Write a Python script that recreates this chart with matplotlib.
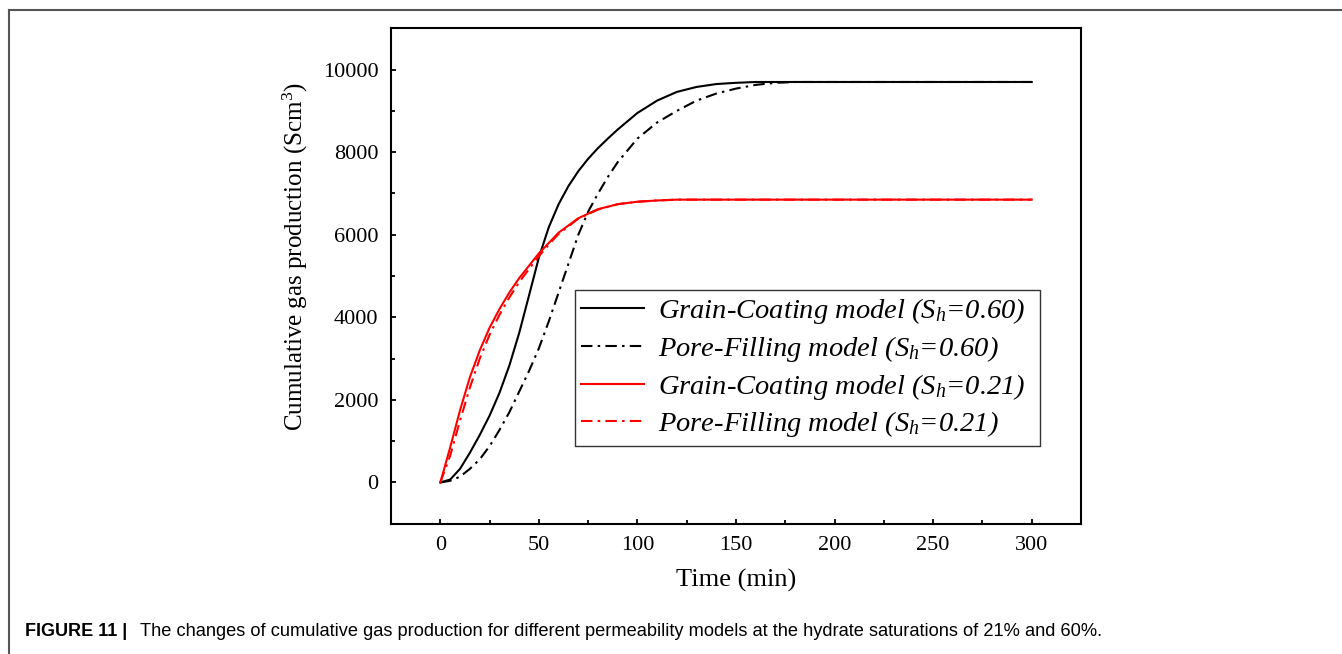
import matplotlib
matplotlib.use('Agg')
import matplotlib.pyplot as plt
from matplotlib.lines import Line2D
from matplotlib.ticker import MultipleLocator

# values
t_60 = [0, 5, 10, 15, 20, 25, 30, 35, 40, 45, 50, 55, 60, 65, 70, 75, 80, 85, 90, 100,
        110, 120, 130, 140, 150, 160, 170, 180, 200, 250, 300]
gc60 = [0, 70, 330, 720, 1150, 1620, 2170, 2830, 3620, 4530, 5450, 6180, 6740, 7180,
        7540, 7840, 8100, 8330, 8550, 8950, 9250, 9460, 9580, 9650, 9680, 9700, 9700,
        9700, 9700, 9700, 9700]
pf60 = [0, 40, 140, 330, 560, 880, 1270, 1700, 2200, 2700, 3250, 3900, 4600, 5300,
        6000, 6560, 7000, 7400, 7760, 8330, 8720, 9000, 9250, 9420, 9540, 9630, 9680,
        9700, 9700, 9700, 9700]

t_21 = [0, 5, 10, 15, 20, 25, 30, 35, 40, 45, 50, 55, 60, 70, 80, 90, 100, 110, 120,
        150, 200, 250, 300]
gc21 = [0, 850, 1750, 2550, 3200, 3750, 4200, 4600, 4950, 5250, 5550, 5800, 6050,
        6400, 6620, 6740, 6800, 6830, 6850, 6850, 6850, 6850, 6850]
pf21 = [0, 650, 1500, 2300, 3000, 3580, 4060, 4480, 4850, 5170, 5480, 5760, 6020,
        6390, 6610, 6740, 6800, 6830, 6850, 6850, 6850, 6850, 6850]

labels = ['Grain-Coating model ($S_h$=0.60)', 'Pore-Filling model ($S_h$=0.60)',
          'Grain-Coating model ($S_h$=0.21)', 'Pore-Filling model ($S_h$=0.21)']

plt.rcParams['font.family'] = ['Liberation Serif', 'DejaVu Serif']
plt.rcParams['mathtext.fontset'] = 'custom'
plt.rcParams['mathtext.rm'] = 'Liberation Serif'
plt.rcParams['mathtext.it'] = 'Liberation Serif:italic'

fig = plt.figure(figsize=(13.42, 6.54), dpi=100)
ax = fig.add_axes([0.2914, 0.1992, 0.5141, 0.7575])

dashdot = (0, (5.5, 2.5, 1.2, 2.5))
ax.plot(t_60, gc60, color='black', lw=1.5, ls='-', label=labels[0])
ax.plot(t_60, pf60, color='black', lw=1.5, ls=dashdot, label=labels[1])
ax.plot(t_21, gc21, color='#ff0000', lw=1.5, ls='-', label=labels[2])
ax.plot(t_21, pf21, color='#ff0000', lw=1.5, ls=dashdot, label=labels[3])

ax.set_xlim(-25, 325)
ax.set_ylim(-1000, 11000)
ax.xaxis.set_major_locator(MultipleLocator(50))
ax.xaxis.set_minor_locator(MultipleLocator(25))
ax.yaxis.set_major_locator(MultipleLocator(2000))
ax.yaxis.set_minor_locator(MultipleLocator(1000))
ax.tick_params(which='both', direction='in', top=False, right=False, width=1.3)
ax.tick_params(which='major', length=3.5, labelsize=16, pad=9)
ax.tick_params(which='minor', length=3)
for s in ax.spines.values():
    s.set_linewidth(1.5)

ax.set_xlabel('Time (min)', fontsize=19, labelpad=10)
ax.set_ylabel('Cumulative gas production (Scm$^3$)', fontsize=18)
ax.yaxis.set_label_coords(-0.118, 0.54)

leg = ax.legend(loc='upper left', bbox_to_anchor=(0.2667, 0.163, 0.6739, 0.3087),
                mode='expand', borderaxespad=0,
                fancybox=False, edgecolor='#333333', framealpha=1,
                prop={'family': 'Liberation Serif', 'style': 'italic', 'size': 20.5},
                handlelength=2.2, handletextpad=0.5, borderpad=0.22, labelspacing=0.27)
leg.get_frame().set_linewidth(1.0)

# outer frame of the figure panel
fig.add_artist(Line2D([9 / 1342, 1], [1 - 10 / 654, 1 - 10 / 654], color='#555555', lw=1.5))
fig.add_artist(Line2D([9 / 1342, 9 / 1342], [0, 1 - 10 / 654], color='#555555', lw=1.5))

fig.text(25 / 1342, 1 - 632 / 654, 'FIGURE 11 |', family='Liberation Sans',
         weight='bold', fontsize=13, va='center')
fig.text(140 / 1342, 1 - 632 / 654,
         'The changes of cumulative gas production for different permeability models '
         'at the hydrate saturations of 21% and 60%.',
         family='Liberation Sans', fontsize=13.15, va='center')

fig.savefig('out.png', dpi=100)
